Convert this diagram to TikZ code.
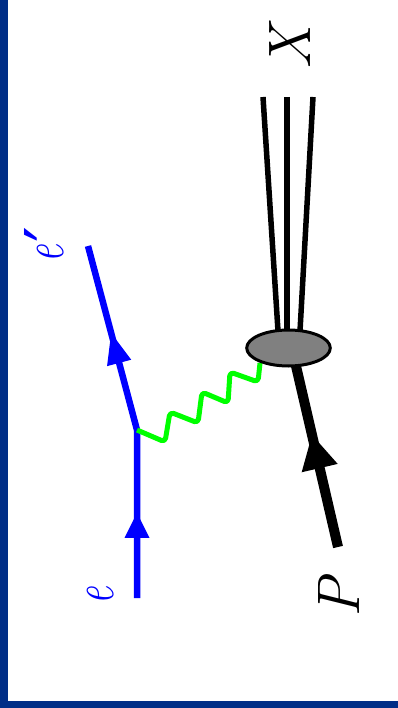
\documentclass[tikz,border=0pt]{standalone}
\usepackage{fontspec}
\newfontfamily\primefont{DejaVu Sans}
\usetikzlibrary{decorations.markings,shapes.geometric}
\definecolor{frameblue}{RGB}{0,46,135}
\definecolor{eblue}{RGB}{0,0,255}
\definecolor{phgreen}{RGB}{0,255,0}
\definecolor{blobgray}{RGB}{128,128,128}
\begin{document}
\begin{tikzpicture}[x=1pt,y=-1pt,
  lbl/.style={rotate=90,inner sep=0pt,anchor=base west,font=\fontsize{60}{66}\selectfont\itshape},
  eline/.style={color=eblue,line width=6.5pt,line join=miter},
  photon/.style={draw=phgreen,line width=5pt,rounded corners=4pt,line join=round},
  hadron/.style={color=black,line width=10pt},
  jet/.style={draw=black,line width=5.5pt},
  blobstyle/.style={ellipse,draw=black,line width=3pt,fill=blobgray,minimum width=83.6pt,minimum height=36pt,inner sep=0pt}]
\useasboundingbox (0,0) rectangle (398,708);
\fill[frameblue] (0,0) rectangle (398,708);
\fill[white] (8,0) rectangle (398,701);
% coordinates
\coordinate (es) at (137,598);
\coordinate (v) at (137,430);
\coordinate (ee) at (88,246);
\coordinate (p) at (338,547);
\coordinate (pb) at (296,366);
\coordinate (x1t) at (263,97);
\coordinate (x1b) at (278,331);
\coordinate (x2t) at (287,97);
\coordinate (x2b) at (287,330);
\coordinate (x3t) at (313,97);
\coordinate (x3b) at (300,331);
% jets
\draw[jet] (x1t) -- (x1b);
\draw[jet] (x2t) -- (x2b);
\draw[jet] (x3t) -- (x3b);
% electron line
\draw[eline,postaction={decorate},decoration={markings,
   mark=at position 0.2372 with {\fill (-25,-12.5) -- (0,0) -- (-25,12.5) -- cycle;},
   mark=at position 0.7489 with {\fill (-31,-12.5) -- (0,0) -- (-31,12.5) -- cycle;}}]
   (es) -- (v) -- (ee);
% photon
\draw[photon] (v) -- (165,442) -- (170,412) -- (198,423) -- (202,392) -- (228,403) -- (230,372) -- (258,382) -- (260,363);
% proton line
\draw[hadron,postaction={decorate},decoration={markings,
   mark=at position 0.619 with {\fill (-34,-18.5) -- (0,0) -- (-34,18.5) -- cycle;}}]
   (p) -- (pb);
% blob
\node[blobstyle] (blob) at (288.5,348) {};
% labels
\node[lbl,text=eblue] (le) at (113,605) {\scalebox{0.65}[1]{e}};
\node[lbl,text=eblue] (lep) at (63,263) {\scalebox{0.65}[1]{e}\hspace{3pt}\raisebox{-12pt}{\upshape\fontsize{70}{74}\primefont ′}};
\node[lbl] (lX) at (310,70) {X};
\node[lbl] (lP) at (359,618) {P};
\end{tikzpicture}
\end{document}
